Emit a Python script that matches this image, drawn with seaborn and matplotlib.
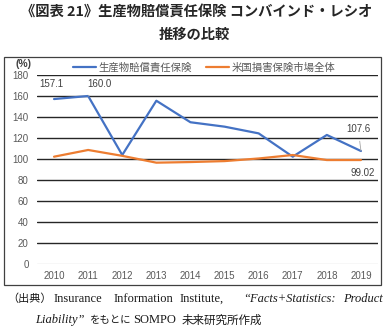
import matplotlib
matplotlib.use("Agg")
import matplotlib.pyplot as plt
import seaborn as sns
import pandas as pd
from matplotlib.patches import Rectangle

years = [2010, 2011, 2012, 2013, 2014, 2015, 2016, 2017, 2018, 2019]
product_liability = [157.1, 160.0, 103.8, 155.5, 135.0, 130.8, 124.4, 102.2, 122.9, 107.6]
us_pc_market = [102.2, 108.6, 103.0, 96.5, 97.1, 98.0, 100.5, 103.8, 99.0, 99.02]
series_names = ["生産物賠償責任保険", "米国損害保険市場全体"]
yticks = [0, 20, 40, 60, 80, 100, 120, 140, 160, 180]

sns.set_style("white")
plt.rcParams["font.family"] = ["Liberation Sans", "Noto Sans CJK JP", "DejaVu Sans"]

df = pd.DataFrame({
    "year": [str(y) for y in years] * 2,
    "value": product_liability + us_pc_market,
    "series": [series_names[0]] * len(years) + [series_names[1]] * len(years),
})

fig = plt.figure(figsize=(3.88, 3.30), dpi=100)
ax = fig.add_axes([37 / 388, 1 - 264 / 330, (378 - 37) / 388, (264 - 75) / 330])

sns.lineplot(data=df, x="year", y="value", hue="series", sort=False,
             palette=["#4472C4", "#ED7D31"], linewidth=1.6, ax=ax, zorder=3)

ax.set_ylim(0, 180)
ax.set_xlim(-0.5, len(years) - 0.5)
ax.set_yticks(yticks)
ax.set_xlabel("")
ax.set_ylabel("")
for s in ax.spines.values():
    s.set_visible(False)
ax.grid(axis="y", color="#262626", linewidth=1.0, zorder=0)
ax.grid(axis="x", visible=False)
ax.get_ygridlines()[0].set_color("#d9d9d9")
ax.tick_params(axis="both", length=0, labelsize=7, colors="#595959")
ax.tick_params(axis="y", pad=6)
ax.tick_params(axis="x", pad=5)

handles, labels = ax.get_legend_handles_labels()
leg = ax.legend(handles, labels, loc="lower center", bbox_to_anchor=(0.49, 0.99), ncol=2,
                frameon=False, fontsize=7.5, handlelength=2.2, handletextpad=0.2,
                columnspacing=1.4, borderaxespad=0)
for t in leg.get_texts():
    t.set_color("#595959")

fig.text(24 / 388, 1 - 64 / 330, "(%)", fontsize=7.5, fontweight="bold", color="#404040",
         ha="center", va="center")

lab = dict(textcoords="offset points", fontsize=7, color="#404040", ha="center", va="center")
arr = dict(arrowstyle="-", color="#a6a6a6", lw=0.6, shrinkA=3, shrinkB=0)
ax.annotate(f"{product_liability[0]:.1f}", (0, product_liability[0]), xytext=(-2, 10.5), **lab)
ax.annotate(f"{product_liability[1]:.1f}", (1, product_liability[1]), xytext=(8, 8.6), arrowprops=arr, **lab)
ax.annotate(f"{product_liability[9]:.1f}", (9, product_liability[9]), xytext=(-2, 16), arrowprops=arr, **lab)
ax.annotate(f"{us_pc_market[9]:.2f}", (9, us_pc_market[9]), xytext=(1, -9), **lab)

# chart frame
fig.add_artist(Rectangle((4 / 388, 1 - 285 / 330), 377 / 388, 228 / 330,
                         transform=fig.transFigure, fill=False, edgecolor="#404040", lw=0.9))

# title
title_font = ["Noto Sans CJK JP", "DejaVu Sans"]
fig.text(197 / 388, 1 - 12 / 330, "《図表 21》生産物賠償責任保険 コンバインド・レシオ",
         fontsize=10.3, fontweight="bold", family=title_font, ha="center", va="center")
fig.text(194 / 388, 1 - 35 / 330, "推移の比較",
         fontsize=10.3, fontweight="bold", family=title_font, ha="center", va="center")

# source note
cjk = ["Noto Sans CJK JP"]
serif = ["Liberation Serif"]
y1 = 1 - 299 / 330
y2 = 1 - 320 / 330
pieces = [
    (7, y1, "（出典）", cjk, "normal", 8),
    (54, y1, "Insurance", serif, "normal", 9),
    (114, y1, "Information", serif, "normal", 9),
    (180, y1, "Institute,", serif, "normal", 9),
    (243, y1, "“Facts+Statistics:", serif, "italic", 9),
    (343, y1, "Product", serif, "italic", 9),
    (35, y2, "Liability”", serif, "italic", 9),
    (89, y2, "をもとに", cjk, "normal", 7.5),
    (133, y2, "SOMPO", serif, "normal", 9),
    (182, y2, "未来研究所作成", cjk, "normal", 8.3),
]
for x, y, t, fam, st, fs in pieces:
    fig.text(x / 388, y, t, fontsize=fs, family=fam, style=st, ha="left", va="center", color="#1a1a1a")

fig.savefig("out.png", dpi=100)
